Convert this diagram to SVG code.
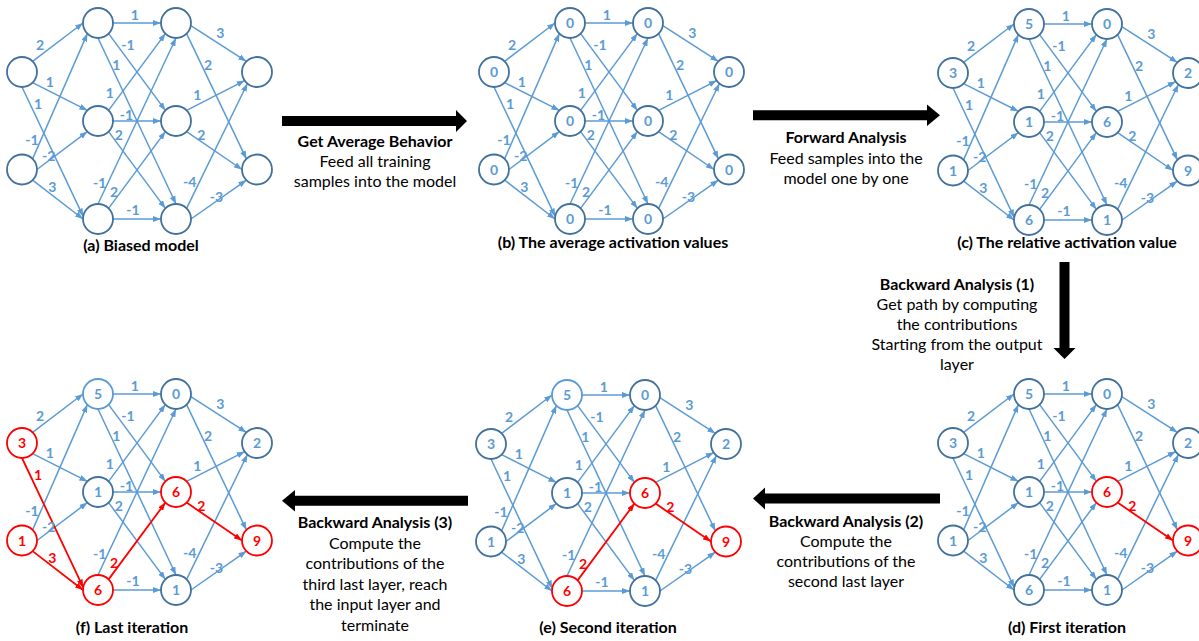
<svg xmlns="http://www.w3.org/2000/svg" xmlns:xlink="http://www.w3.org/1999/xlink" width="1199" height="641" viewBox="0 0 1199 641">
<style>
.e{stroke:#5B9BD5;stroke-width:1.5;fill:none;marker-end:url(#ab)}
.er{stroke:#FF0000;stroke-width:1.8;marker-end:url(#ar)}
.n{fill:#fff;stroke:#41719C;stroke-width:1.8}
.nl{fill:#fff;stroke:#5B9BD5;stroke-width:1.8}
.nr{fill:#fff;stroke:#FF0000;stroke-width:1.8}
.w{font-family:Lato,"Liberation Sans",sans-serif;font-weight:bold;font-size:14px;text-anchor:middle}
.vb{fill:#5B9BD5}
.vr{fill:#FF0000}
.cap{font-family:Lato,"Liberation Sans",sans-serif;font-weight:bold;font-size:16px;text-anchor:middle;fill:#000}
.t{font-family:Lato,"Liberation Sans",sans-serif;font-size:16px;text-anchor:middle;fill:#000}
.tb{font-weight:bold}
.arr{fill:#000}
</style>
<defs>
<marker id="ab" viewBox="0 0 8 6" refX="8" refY="3" markerWidth="8" markerHeight="6" markerUnits="userSpaceOnUse" orient="auto"><path d="M0,0L8,3L0,6z" fill="#5B9BD5"/></marker>
<marker id="ar" viewBox="0 0 8 6" refX="8" refY="3" markerWidth="8" markerHeight="6" markerUnits="userSpaceOnUse" orient="auto"><path d="M0,0L8,3L0,6z" fill="#FF0000"/></marker>
<g id="EB">
<line x1="10.6" y1="-10.6" x2="61" y2="-49"/>
<line x1="10.6" y1="10.6" x2="65.4" y2="38.4"/>
<line x1="10.6" y1="86.9" x2="65.4" y2="-38.4"/>
<line x1="15" y1="97.5" x2="65.4" y2="59.6"/>
<line x1="91" y1="-49" x2="139" y2="-49"/>
<line x1="86.6" y1="-38.4" x2="143.4" y2="38.4"/>
<line x1="76" y1="-34" x2="154" y2="132"/>
<line x1="86.6" y1="38.4" x2="143.4" y2="-38.4"/>
<line x1="91" y1="49" x2="139" y2="49"/>
<line x1="86.6" y1="59.6" x2="143.4" y2="136.4"/>
<line x1="76" y1="132" x2="154" y2="-34"/>
<line x1="91" y1="147" x2="139" y2="147"/>
<line x1="168.8" y1="-46.4" x2="224.4" y2="-10.6"/>
<line x1="164.6" y1="-38.4" x2="224.4" y2="86.9"/>
<line x1="164.6" y1="38.4" x2="222.7" y2="8.6"/>
<line x1="164.6" y1="136.4" x2="225.4" y2="11.5"/>
<line x1="169" y1="147" x2="224.4" y2="108.1"/>
</g>
<line id="e3" x1="0" y1="15" x2="61.2" y2="144.4"/>
<line id="e6" x1="10.6" y1="108.1" x2="61" y2="147"/>
<line id="e14" x1="86.6" y1="136.4" x2="143.4" y2="59.6"/>
<line id="e19" x1="164.6" y1="59.6" x2="220" y2="97.5"/>
<g id="LB" class="w">
<text x="18" y="-22">2</text>
<text x="27.7" y="14.7">1</text>
<text x="10" y="73">-1</text>
<text x="26.7" y="89">-2</text>
<text x="112.7" y="-52">1</text>
<text x="106" y="-22">-1</text>
<text x="94.4" y="-2">1</text>
<text x="87.7" y="26.3">1</text>
<text x="104.4" y="48">-1</text>
<text x="96.7" y="68">2</text>
<text x="77.7" y="115.7">-1</text>
<text x="111" y="143">-1</text>
<text x="198.4" y="-33.7">3</text>
<text x="186" y="-2">2</text>
<text x="175.4" y="28">1</text>
<text x="167.7" y="114.7">-4</text>
<text x="194.4" y="129.7">-3</text>
</g>
<text id="l3" class="w" x="16" y="37">1</text>
<text id="l6" class="w" x="30.4" y="119.7">3</text>
<text id="l14" class="w" x="92" y="125.3">2</text>
<text id="l19" class="w" x="179.4" y="68">2</text>
</defs>

<rect width="1199" height="641" fill="#fff"/>

<!-- Panel a -->
<g id="panel-a" transform="translate(22,72)">
<g id="a-edges" class="e"><use xlink:href="#EB"/><use xlink:href="#e3"/><use xlink:href="#e6"/><use xlink:href="#e14"/><use xlink:href="#e19"/></g>
<g id="a-labels" fill="#5B9BD5"><use xlink:href="#LB"/><use xlink:href="#l3"/><use xlink:href="#l6"/><use xlink:href="#l14"/><use xlink:href="#l19"/></g>
<g id="a-I0"><circle class="n" cx="0" cy="0" r="15"/></g>
<g id="a-I1"><circle class="n" cx="0" cy="97.5" r="15"/></g>
<g id="a-A0"><circle class="n" cx="76" cy="-49" r="15"/></g>
<g id="a-A1"><circle class="n" cx="76" cy="49" r="15"/></g>
<g id="a-A2"><circle class="n" cx="76" cy="147" r="15"/></g>
<g id="a-B0"><circle class="n" cx="154" cy="-49" r="15"/></g>
<g id="a-B1"><circle class="n" cx="154" cy="49" r="15"/></g>
<g id="a-B2"><circle class="n" cx="154" cy="147" r="15"/></g>
<g id="a-O0"><circle class="n" cx="235" cy="0" r="15"/></g>
<g id="a-O1"><circle class="n" cx="235" cy="97.5" r="15"/></g>
</g>
<text class="cap" x="141" y="251">(a) Biased model</text>

<!-- Panel b -->
<g id="panel-b" transform="translate(494,72)">
<g id="b-edges" class="e"><use xlink:href="#EB"/><use xlink:href="#e3"/><use xlink:href="#e6"/><use xlink:href="#e14"/><use xlink:href="#e19"/></g>
<g id="b-labels" fill="#5B9BD5"><use xlink:href="#LB"/><use xlink:href="#l3"/><use xlink:href="#l6"/><use xlink:href="#l14"/><use xlink:href="#l19"/></g>
<g id="b-I0"><circle class="n" cx="0" cy="0" r="15"/><text class="w vb" x="0" y="5">0</text></g>
<g id="b-I1"><circle class="n" cx="0" cy="97.5" r="15"/><text class="w vb" x="0" y="102.5">0</text></g>
<g id="b-A0"><circle class="n" cx="76" cy="-49" r="15"/><text class="w vb" x="76" y="-44">0</text></g>
<g id="b-A1"><circle class="n" cx="76" cy="49" r="15"/><text class="w vb" x="76" y="54">0</text></g>
<g id="b-A2"><circle class="n" cx="76" cy="147" r="15"/><text class="w vb" x="76" y="152">0</text></g>
<g id="b-B0"><circle class="n" cx="154" cy="-49" r="15"/><text class="w vb" x="154" y="-44">0</text></g>
<g id="b-B1"><circle class="n" cx="154" cy="49" r="15"/><text class="w vb" x="154" y="54">0</text></g>
<g id="b-B2"><circle class="n" cx="154" cy="147" r="15"/><text class="w vb" x="154" y="152">0</text></g>
<g id="b-O0"><circle class="n" cx="235" cy="0" r="15"/><text class="w vb" x="235" y="5">0</text></g>
<g id="b-O1"><circle class="n" cx="235" cy="97.5" r="15"/><text class="w vb" x="235" y="102.5">0</text></g>
</g>
<text class="cap" x="613" y="248">(b) The average activation values</text>

<!-- Panel c -->
<g id="panel-c" transform="translate(953,73)">
<g id="c-edges" class="e"><use xlink:href="#EB"/><use xlink:href="#e3"/><use xlink:href="#e6"/><use xlink:href="#e14"/><use xlink:href="#e19"/></g>
<g id="c-labels" fill="#5B9BD5"><use xlink:href="#LB"/><use xlink:href="#l3"/><use xlink:href="#l6"/><use xlink:href="#l14"/><use xlink:href="#l19"/></g>
<g id="c-I0"><circle class="n" cx="0" cy="0" r="15"/><text class="w vb" x="0" y="5">3</text></g>
<g id="c-I1"><circle class="n" cx="0" cy="97.5" r="15"/><text class="w vb" x="0" y="102.5">1</text></g>
<g id="c-A0"><circle class="n" cx="76" cy="-49" r="15"/><text class="w vb" x="76" y="-44">5</text></g>
<g id="c-A1"><circle class="n" cx="76" cy="49" r="15"/><text class="w vb" x="76" y="54">1</text></g>
<g id="c-A2"><circle class="n" cx="76" cy="147" r="15"/><text class="w vb" x="76" y="152">6</text></g>
<g id="c-B0"><circle class="n" cx="154" cy="-49" r="15"/><text class="w vb" x="154" y="-44">0</text></g>
<g id="c-B1"><circle class="n" cx="154" cy="49" r="15"/><text class="w vb" x="154" y="54">6</text></g>
<g id="c-B2"><circle class="n" cx="154" cy="147" r="15"/><text class="w vb" x="154" y="152">1</text></g>
<g id="c-O0"><circle class="n" cx="235" cy="0" r="15"/><text class="w vb" x="235" y="5">2</text></g>
<g id="c-O1"><circle class="n" cx="235" cy="97.5" r="15"/><text class="w vb" x="235" y="102.5">9</text></g>
</g>
<text class="cap" x="1067" y="248">(c) The relative activation value</text>

<!-- Panel d -->
<g id="panel-d" transform="translate(953,443)">
<g id="d-edges" class="e"><use xlink:href="#EB"/><use xlink:href="#e3"/><use xlink:href="#e6"/><use xlink:href="#e14"/><use xlink:href="#e19" class="er"/></g>
<g id="d-labels" fill="#5B9BD5"><use xlink:href="#LB"/><use xlink:href="#l3"/><use xlink:href="#l6"/><use xlink:href="#l14"/><use xlink:href="#l19" fill="#FF0000"/></g>
<g id="d-I0"><circle class="n" cx="0" cy="0" r="15"/><text class="w vb" x="0" y="5">3</text></g>
<g id="d-I1"><circle class="n" cx="0" cy="97.5" r="15"/><text class="w vb" x="0" y="102.5">1</text></g>
<g id="d-A0"><circle class="n" cx="76" cy="-49" r="15"/><text class="w vb" x="76" y="-44">5</text></g>
<g id="d-A1"><circle class="n" cx="76" cy="49" r="15"/><text class="w vb" x="76" y="54">1</text></g>
<g id="d-A2"><circle class="n" cx="76" cy="147" r="15"/><text class="w vb" x="76" y="152">6</text></g>
<g id="d-B0"><circle class="n" cx="154" cy="-49" r="15"/><text class="w vb" x="154" y="-44">0</text></g>
<g id="d-B1"><circle class="nr" cx="154" cy="49" r="15"/><text class="w vr" x="154" y="54">6</text></g>
<g id="d-B2"><circle class="n" cx="154" cy="147" r="15"/><text class="w vb" x="154" y="152">1</text></g>
<g id="d-O0"><circle class="n" cx="235" cy="0" r="15"/><text class="w vb" x="235" y="5">2</text></g>
<g id="d-O1"><circle class="nr" cx="235" cy="97.5" r="15"/><text class="w vr" x="235" y="102.5">9</text></g>
</g>
<text class="cap" x="1067" y="633">(d) First iteration</text>

<!-- Panel e -->
<g id="panel-e" transform="translate(491,444)">
<g id="e-edges" class="e"><use xlink:href="#EB"/><use xlink:href="#e3"/><use xlink:href="#e6"/><use xlink:href="#e14" class="er"/><use xlink:href="#e19" class="er"/></g>
<g id="e-labels" fill="#5B9BD5"><use xlink:href="#LB"/><use xlink:href="#l3"/><use xlink:href="#l6"/><use xlink:href="#l14" fill="#FF0000"/><use xlink:href="#l19" fill="#FF0000"/></g>
<g id="e-I0"><circle class="n" cx="0" cy="0" r="15"/><text class="w vb" x="0" y="5">3</text></g>
<g id="e-I1"><circle class="n" cx="0" cy="97.5" r="15"/><text class="w vb" x="0" y="102.5">1</text></g>
<g id="e-A0"><circle class="nl" cx="76" cy="-49" r="15"/><text class="w vb" x="76" y="-44">5</text></g>
<g id="e-A1"><circle class="n" cx="76" cy="49" r="15"/><text class="w vb" x="76" y="54">1</text></g>
<g id="e-A2"><circle class="nr" cx="76" cy="147" r="15"/><text class="w vr" x="76" y="152">6</text></g>
<g id="e-B0"><circle class="n" cx="154" cy="-49" r="15"/><text class="w vb" x="154" y="-44">0</text></g>
<g id="e-B1"><circle class="nr" cx="154" cy="49" r="15"/><text class="w vr" x="154" y="54">6</text></g>
<g id="e-B2"><circle class="n" cx="154" cy="147" r="15"/><text class="w vb" x="154" y="152">1</text></g>
<g id="e-O0"><circle class="n" cx="235" cy="0" r="15"/><text class="w vb" x="235" y="5">2</text></g>
<g id="e-O1"><circle class="nr" cx="235" cy="97.5" r="15"/><text class="w vr" x="235" y="102.5">9</text></g>
</g>
<text class="cap" x="608" y="633">(e) Second iteration</text>

<!-- Panel f -->
<g id="panel-f" transform="translate(22,443)">
<g id="f-edges" class="e"><use xlink:href="#EB"/><use xlink:href="#e3" class="er"/><use xlink:href="#e6" class="er"/><use xlink:href="#e14" class="er"/><use xlink:href="#e19" class="er"/></g>
<g id="f-labels" fill="#5B9BD5"><use xlink:href="#LB"/><use xlink:href="#l3" fill="#FF0000"/><use xlink:href="#l6" fill="#FF0000"/><use xlink:href="#l14" fill="#FF0000"/><use xlink:href="#l19" fill="#FF0000"/></g>
<g id="f-I0"><circle class="nr" cx="0" cy="0" r="15"/><text class="w vr" x="0" y="5">3</text></g>
<g id="f-I1"><circle class="nr" cx="0" cy="97.5" r="15"/><text class="w vr" x="0" y="102.5">1</text></g>
<g id="f-A0"><circle class="nl" cx="76" cy="-49" r="15"/><text class="w vb" x="76" y="-44">5</text></g>
<g id="f-A1"><circle class="n" cx="76" cy="49" r="15"/><text class="w vb" x="76" y="54">1</text></g>
<g id="f-A2"><circle class="nr" cx="76" cy="147" r="15"/><text class="w vr" x="76" y="152">6</text></g>
<g id="f-B0"><circle class="n" cx="154" cy="-49" r="15"/><text class="w vb" x="154" y="-44">0</text></g>
<g id="f-B1"><circle class="nr" cx="154" cy="49" r="15"/><text class="w vr" x="154" y="54">6</text></g>
<g id="f-B2"><circle class="n" cx="154" cy="147" r="15"/><text class="w vb" x="154" y="152">1</text></g>
<g id="f-O0"><circle class="n" cx="235" cy="0" r="15"/><text class="w vb" x="235" y="5">2</text></g>
<g id="f-O1"><circle class="nr" cx="235" cy="97.5" r="15"/><text class="w vr" x="235" y="102.5">9</text></g>
</g>
<text class="cap" x="132" y="633">(f) Last iteration</text>

<!-- Process arrows -->
<g id="process-arrows" class="arr">
<polygon points="282,116 456,116 456,110 467,121 456,132 456,126 282,126"/>
<polygon points="753,110.3 927,110.3 927,104.5 940,115.3 927,126 927,120.3 753,120.3"/>
<polygon points="1059.5,262 1069.5,262 1069.5,348 1075.5,348 1064.5,359 1053.5,348 1059.5,348"/>
<polygon points="468,495.7 295,495.7 295,490 282,500.7 295,511.5 295,505.7 468,505.7"/>
<polygon points="940,493.5 765,493.5 765,487.5 753,498.5 765,509.5 765,503.5 940,503.5"/>
</g>

<!-- Step texts -->
<g id="step1">
<text class="t tb" x="375" y="147">Get Average Behavior</text>
<text class="t" x="375" y="167">Feed all training</text>
<text class="t" x="375" y="187">samples into the model</text>
</g>
<g id="step2">
<text class="t tb" x="846" y="143">Forward Analysis</text>
<text class="t" x="846" y="163.5">Feed samples into the</text>
<text class="t" x="846" y="184">model one by one</text>
</g>
<g id="step3">
<text class="t tb" x="957" y="290">Backward Analysis (1)</text>
<text class="t" x="957" y="310">Get path by computing</text>
<text class="t" x="957" y="330">the contributions</text>
<text class="t" x="957" y="350">Starting from the output</text>
<text class="t" x="957" y="370">layer</text>
</g>
<g id="step4">
<text class="t tb" x="846" y="527">Backward Analysis (2)</text>
<text class="t" x="846" y="547">Compute the</text>
<text class="t" x="846" y="567">contributions of the</text>
<text class="t" x="846" y="587">second last layer</text>
</g>
<g id="step5">
<text class="t tb" x="375" y="528">Backward Analysis (3)</text>
<text class="t" x="375" y="549">Compute the</text>
<text class="t" x="375" y="569">contributions of the</text>
<text class="t" x="375" y="590">third last layer, reach</text>
<text class="t" x="375" y="610">the input layer and</text>
<text class="t" x="375" y="631">terminate</text>
</g>
</svg>
